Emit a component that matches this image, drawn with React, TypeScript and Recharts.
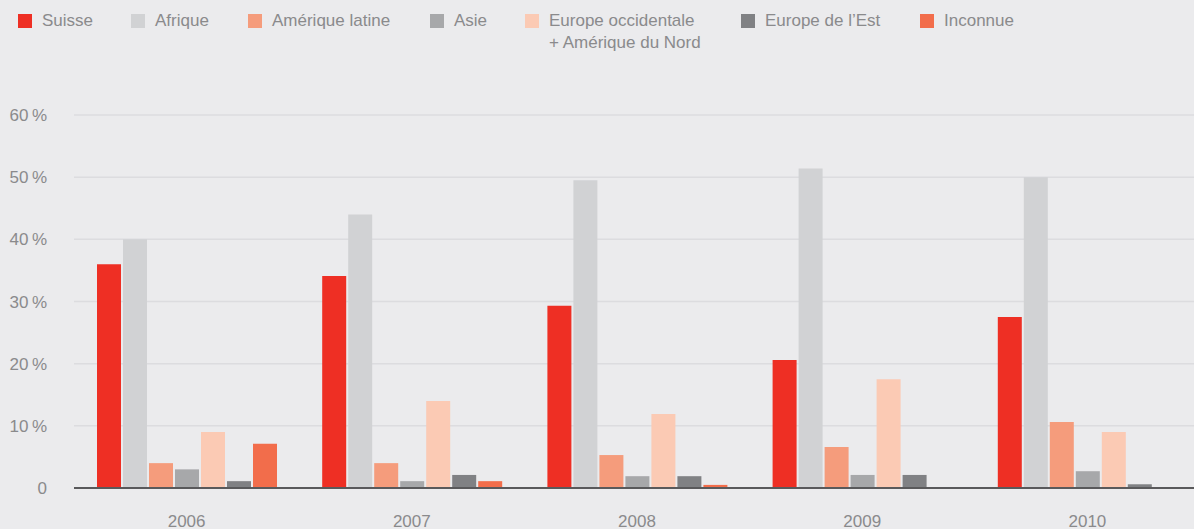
import React from 'react';
import { BarChart, Bar, XAxis, YAxis, CartesianGrid } from 'recharts';

const years = ['2006', '2007', '2008', '2009', '2010'];
const suisse = [36, 34.1, 29.3, 20.6, 27.5];
const afrique = [40, 44, 49.5, 51.4, 50];
const ameriqueLatine = [4, 4, 5.3, 6.6, 10.6];
const asie = [3, 1.1, 1.9, 2.1, 2.7];
const europeOcc = [9, 14, 11.9, 17.5, 9];
const europeEst = [1.1, 2.1, 1.9, 2.1, 0.6];
const inconnue = [7.1, 1.1, 0.5, 0, 0];
const yTicks = [0, 10, 20, 30, 40, 50, 60];

const series = [
  { key: 'suisse', label: ['Suisse'], color: '#ee2f24', values: suisse },
  { key: 'afrique', label: ['Afrique'], color: '#d1d2d4', values: afrique },
  { key: 'amLat', label: ['Amérique latine'], color: '#f59c7c', values: ameriqueLatine },
  { key: 'asie', label: ['Asie'], color: '#a7a8aa', values: asie },
  { key: 'eurOcc', label: ['Europe occidentale', '+ Amérique du Nord'], color: '#fbcab4', values: europeOcc },
  { key: 'eurEst', label: ['Europe de l\u2019Est'], color: '#808184', values: europeEst },
  { key: 'inconnue', label: ['Inconnue'], color: '#f26d4b', values: inconnue },
];

const data = years.map((year, i) => {
  const row: any = { year };
  series.forEach((s) => (row[s.key] = s.values[i]));
  return row;
});

// legend square x positions
const legendLeft = [18, 131, 248, 430, 525, 741, 920];
const font = '"Liberation Sans", Arial, sans-serif';
const textColor = '#8a8a8c';

function TopLegend() {
  return (
    <div style={{ position: 'absolute', left: 0, top: 0, width: 1194, height: 60 }}>
      {series.map((s, i) => (
        <div key={s.key} style={{ position: 'absolute', left: legendLeft[i], top: 10, display: 'flex' }}>
          <div style={{ width: 14, height: 14, background: s.color, marginTop: 4, marginRight: 10 }} />
          <div style={{ fontFamily: font, fontSize: 17, lineHeight: '22px', color: textColor }}>
            {s.label.map((l) => (
              <div key={l} style={{ whiteSpace: 'nowrap' }}>{l}</div>
            ))}
          </div>
        </div>
      ))}
    </div>
  );
}

export default function App() {
  return (
    <div style={{ position: 'relative', width: 1194, height: 529, overflow: 'hidden', background: '#ebebed' }}>
      <style>{`body{margin:0}`}</style>
      <TopLegend />
      <BarChart
        width={1200}
        height={529}
        data={data}
        margin={{ top: 115, right: 0, left: 0, bottom: 0 }}
        barSize={24}
        barGap={2}
      >
        <CartesianGrid vertical={false} stroke="#dcdcdf" strokeWidth={1.5} />
        <YAxis
          width={74}
          domain={[0, 60]}
          ticks={yTicks}
          interval={0}
          axisLine={false}
          tickLine={false}
          tickSize={0}
          tickMargin={27}
          tickFormatter={(v: number) => (v === 0 ? '0' : `${v}\u2009%`)}
          tick={{ fill: textColor, fontSize: 17, fontFamily: font }}
        />
        <XAxis
          dataKey="year"
          height={41}
          axisLine={{ stroke: '#59595b', strokeWidth: 2 }}
          tickLine={false}
          tickSize={0}
          tickMargin={27}
          tick={{ fill: textColor, fontSize: 17, fontFamily: font }}
        />
        {series.map((s) => (
          <Bar key={s.key} dataKey={s.key} fill={s.color} isAnimationActive={false} />
        ))}
      </BarChart>
    </div>
  );
}
